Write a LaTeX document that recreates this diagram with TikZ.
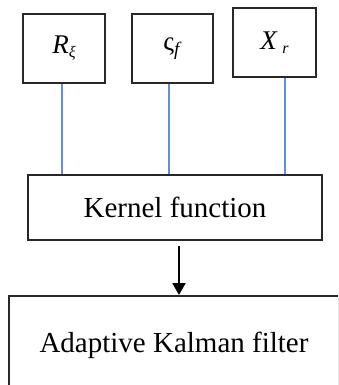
\documentclass[tikz,border=0pt]{standalone}
\usepackage{fontspec}
\setmainfont{Liberation Serif}
\usetikzlibrary{arrows.meta}
\definecolor{edge}{RGB}{40,40,40}
\definecolor{link}{RGB}{100,140,220}
\tikzset{
  blk/.style={draw=edge, line width=2pt, rectangle, inner sep=0pt, fill=white},
  sym/.style={blk, minimum width=82pt, minimum height=69pt, font=\fontsize{27}{30}\selectfont},
  wire/.style={draw=link, line width=2pt},
  flow/.style={draw=black, line width=2pt, -{Triangle[length=12pt,width=13pt]}}
}
\begin{document}
\begin{tikzpicture}[x=1pt,y=-1pt]
\useasboundingbox (0,0) rectangle (338,385);
\clip (0,0) rectangle (338,385);
% input quantities
\node[sym] (r) at (64,48.5) {\textit{R}\raisebox{-4pt}{\fontsize{16}{18}\selectfont\textit{ξ}}};
\node[sym, minimum width=81pt] (s) at (172.5,48.5) {ς\raisebox{-5pt}{\fontsize{19}{20}\selectfont\textit{f}}};
\node[sym, minimum width=83pt] (x) at (274.5,42.5) {\textit{X}\,\raisebox{-4pt}{\fontsize{16}{18}\selectfont\textit{r}}};
% kernel stage
\node[blk, minimum width=294pt, minimum height=65pt, font=\fontsize{29}{34}\selectfont] (k) at (175,207.5) {Kernel function};
% filter stage
\node[blk, minimum width=330pt, minimum height=98pt, font=\fontsize{29}{34}\selectfont] (a) at (174,345) {Adaptive Kalman filter};
% connectors
\draw[wire] ([xshift=-2pt]r.south) -- ([xshift=-2pt]r.south |- k.north);
\draw[wire] ([xshift=-4pt]s.south) -- ([xshift=-4pt]s.south |- k.north);
\draw[wire] ([xshift=10pt]x.south) -- ([xshift=10pt]x.south |- k.north);
\draw[flow] ([xshift=4pt,yshift=-5pt]k.south) -- ([xshift=4pt]k.south |- a.north);
\end{tikzpicture}
\end{document}
